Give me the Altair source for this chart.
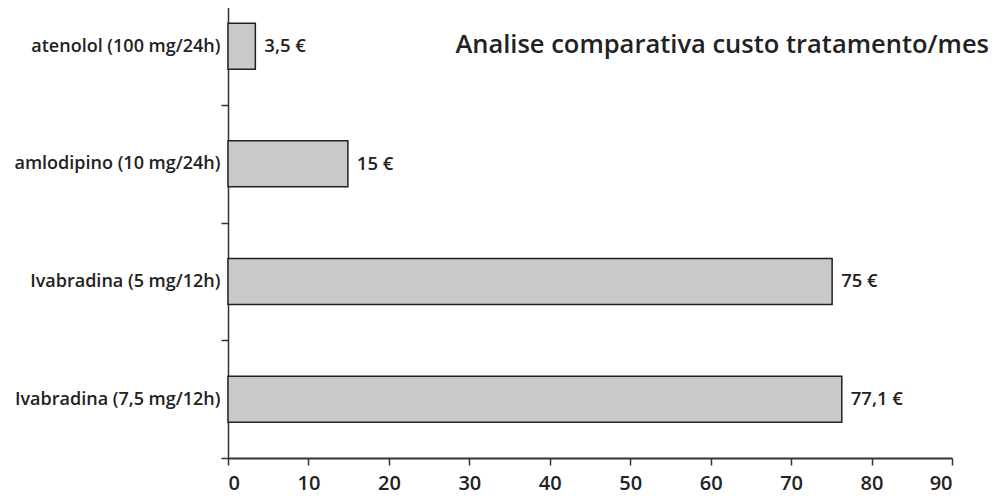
import altair as alt
import pandas as pd

categories = ["atenolol (100 mg/24h)", "amlodipino (10 mg/24h)",
              "Ivabradina (5 mg/12h)", "Ivabradina (7,5 mg/12h)"]
values = [3.4, 14.9, 75.1, 76.3]
labels = ["3,5 €", "15 €", "75 €", "77,1 €"]
x_ticks = [0, 10, 20, 30, 40, 50, 60, 70, 80, 90]
title_text = "Analise comparativa custo tratamento/mes"

df = pd.DataFrame({"cat": categories, "val": values, "lab": labels})

FONT = "Open Sans"
W, H = 724, 449

y_enc = alt.Y("cat:N", sort=categories, title=None,
              scale=alt.Scale(range=[-21.7, H], paddingInner=0, paddingOuter=0),
              axis=alt.Axis(tickBand="extent", tickSize=7, tickColor="#333",
                            domainColor="#333", domainWidth=1.5, tickWidth=1.5,
                            labelFont=FONT, labelFontSize=18, labelFontWeight=600,
                            labelColor="#222", labelPadding=1, labelLimit=300))
x_enc = alt.X("val:Q", title=None,
              scale=alt.Scale(domain=[0, 90], nice=False),
              axis=alt.Axis(values=x_ticks, tickSize=7, tickColor="#333", tickWidth=1.5,
                            domainColor="#333", domainWidth=2, grid=False,
                            labelFont=FONT, labelFontSize=20, labelFontWeight=600,
                            labelColor="#222", labelPadding=8))

base = alt.Chart(df)
bars = base.mark_bar(size=46, color="#c8c9cb", stroke="#222", strokeWidth=1.5).encode(
    x=x_enc, y=y_enc)
texts = base.mark_text(align="left", baseline="middle", dx=9, font=FONT,
                       fontSize=18.5, fontWeight=600, color="#222").encode(
    x="val:Q", y=alt.Y("cat:N", sort=categories), text="lab:N")
title = alt.Chart(pd.DataFrame({"t": [title_text]})).mark_text(
    align="right", baseline="middle", font=FONT, fontSize=25.5, fontWeight=600,
    color="#222").encode(text="t:N", x=alt.value(761), y=alt.value(36))

chart = alt.layer(bars, texts, title).properties(
    width=W, height=H,
    autosize=alt.AutoSizeParams(type="none"),
    padding={"left": 220, "top": 1, "right": 38, "bottom": 41},
).configure_view(stroke=None)

chart.save("out.html", embed_options={"renderer": "svg", "actions": False})
